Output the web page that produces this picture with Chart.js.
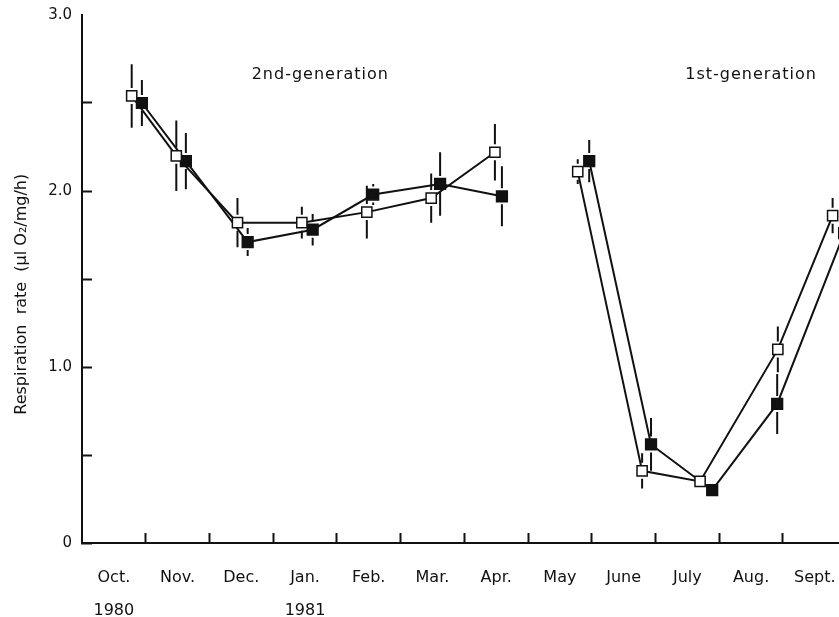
<!DOCTYPE html>
<html>
<head>
<meta charset="utf-8">
<script src="https://cdn.jsdelivr.net/npm/chart.js@4"></script>
<style>
  html, body { margin: 0; padding: 0; background: #fff; overflow: hidden; }
  canvas { display: block; }
</style>
</head>
<body>
<canvas id="respChart" width="839" height="617"></canvas>
<script>
const months = ["Oct.", "Nov.", "Dec.", "Jan.", "Feb.", "Mar.", "Apr.", "May", "June", "July", "Aug.", "Sept."];
const years = ["1980", "", "", "1981", "", "", "", "", "", "", "", ""];

// sampling time in months counted from 1 Oct 1980
const openX = [0.78, 1.48, 2.44, 3.45, 4.47, 5.48, 6.48, 7.78, 8.79, 9.70, 10.92, 11.78];
const openY = [2.54, 2.20, 1.82, 1.82, 1.88, 1.96, 2.22, 2.11, 0.41, 0.35, 1.10, 1.86];
const openErr = [0.18, 0.20, 0.14, 0.09, 0.15, 0.14, 0.16, 0.07, 0.10, 0, 0.13, 0.10];

const filledX = [0.94, 1.63, 2.60, 3.62, 4.57, 5.62, 6.59, 7.96, 8.93, 9.89, 10.91, 11.96];
const filledY = [2.50, 2.17, 1.71, 1.78, 1.98, 2.04, 1.97, 2.17, 0.56, 0.30, 0.79, 1.76];
const filledErr = [0.13, 0.16, 0.08, 0.09, 0.06, 0.18, 0.17, 0.12, 0.15, 0, 0.17, 0.10];

// index where the 1st generation starts
const genSplit = 7;
const genLabels = [
  { text: "2nd-generation", x: 3.74, y: 2.66 },
  { text: "1st-generation", x: 10.5, y: 2.66 },
];

const FONT = "'DejaVu Sans', sans-serif";
const INK = "#111";

function points(xs, ys, from, to) {
  const out = [];
  for (let i = from; i < to; i++) out.push({ x: xs[i], y: ys[i] });
  return out;
}

function makeSet(xs, ys, errs, from, to, filled) {
  return {
    data: points(xs, ys, from, to),
    errors: errs.slice(from, to),
    borderColor: INK,
    borderWidth: 2,
    pointStyle: "rect",
    pointRadius: filled ? 7.6 : 7.2,
    pointBorderWidth: 1.5,
    pointBorderColor: INK,
    pointBackgroundColor: filled ? INK : "#fff",
    tension: 0,
    fill: false,
  };
}

const errorBars = {
  id: "errorBars",
  afterDatasetsDraw(chart) {
    const ctx = chart.ctx;
    const y = chart.scales.y;
    const area = chart.chartArea;
    ctx.save();
    ctx.beginPath();
    ctx.rect(area.left, area.top, area.right - area.left, area.bottom - area.top);
    ctx.clip();
    ctx.strokeStyle = INK;
    ctx.lineWidth = 2;
    chart.data.datasets.forEach((ds, di) => {
      const meta = chart.getDatasetMeta(di);
      meta.data.forEach((pt, i) => {
        const err = ds.errors[i];
        if (!err) return;
        const v = ds.data[i].y;
        const top = y.getPixelForValue(v + err);
        const bot = y.getPixelForValue(v - err);
        const gap = 8;
        ctx.beginPath();
        if (top < pt.y - gap) {
          ctx.moveTo(pt.x, top);
          ctx.lineTo(pt.x, pt.y - gap);
        }
        if (bot > pt.y + gap) {
          ctx.moveTo(pt.x, pt.y + gap);
          ctx.lineTo(pt.x, bot);
        }
        ctx.stroke();
      });
    });
    ctx.restore();
  },
};

const genText = {
  id: "genText",
  afterDraw(chart) {
    const ctx = chart.ctx;
    ctx.save();
    ctx.fillStyle = INK;
    ctx.font = "16px " + FONT;
    ctx.letterSpacing = "1px";
    ctx.textAlign = "center";
    ctx.textBaseline = "middle";
    genLabels.forEach((g) => {
      ctx.fillText(g.text, chart.scales.x.getPixelForValue(g.x), chart.scales.y.getPixelForValue(g.y));
    });
    ctx.restore();
  },
};

function initChart() {
  const ctx = document.getElementById("respChart").getContext("2d");
  new Chart(ctx, {
    type: "line",
    data: {
      datasets: [
        makeSet(openX, openY, openErr, 0, genSplit, false),
        makeSet(filledX, filledY, filledErr, 0, genSplit, true),
        makeSet(openX, openY, openErr, genSplit, openX.length, false),
        makeSet(filledX, filledY, filledErr, genSplit, filledX.length, true),
      ],
    },
    options: {
      responsive: false,
      animation: false,
      layout: { autoPadding: false, padding: { top: 15, left: 0, right: 0, bottom: 0 } },
      plugins: {
        legend: { display: false },
        tooltip: { enabled: false },
      },
      scales: {
        x: {
          type: "linear",
          min: 0,
          max: 11.88,
          afterBuildTicks: (scale) => {
            const t = [];
            for (let i = 0; i < months.length; i++) {
              t.push({ value: i + 0.5 });
              if (i > 0) t.push({ value: i });
            }
            t.sort((a, b) => a.value - b.value);
            scale.ticks = t;
          },
          afterFit: (scale) => {
            scale.height = 74;
            scale.paddingLeft = 0;
            scale.paddingRight = 0;
          },
          border: { display: true, color: INK, width: 2 },
          grid: {
            drawOnChartArea: false,
            drawTicks: true,
            tickLength: -10,
            tickWidth: 2,
            tickColor: (c) => (c.tick && Number.isInteger(c.tick.value) ? INK : "rgba(0,0,0,0)"),
          },
          ticks: {
            autoSkip: false,
            maxRotation: 0,
            minRotation: 0,
            padding: 28,
            color: INK,
            font: { family: FONT, size: 16, lineHeight: 2.06 },
            callback: (value) => {
              if (Number.isInteger(value)) return "";
              const i = Math.floor(value);
              return years[i] ? [months[i], years[i]] : months[i];
            },
          },
        },
        y: {
          min: 0,
          max: 3,
          afterBuildTicks: (scale) => {
            scale.ticks = [0, 0.5, 1, 1.5, 2, 2.5, 3].map((v) => ({ value: v }));
          },
          afterFit: (scale) => {
            scale.width = 82;
            scale.paddingTop = 0;
            scale.paddingBottom = 0;
          },
          border: { display: true, color: INK, width: 2 },
          grid: {
            drawOnChartArea: false,
            drawTicks: true,
            tickLength: -10,
            tickWidth: 2,
            tickColor: (c) => (c.tick && c.tick.value < 3 ? INK : "rgba(0,0,0,0)"),
          },
          ticks: {
            padding: 20,
            color: INK,
            font: { family: FONT, size: 15 },
            callback: (value) => {
              if (value === 0) return "0";
              if (Number.isInteger(value)) return value.toFixed(1);
              return "";
            },
          },
          title: {
            display: true,
            text: "Respiration  rate  (\u00b5l O\u2082/mg/h)      ",
            color: INK,
            font: { family: FONT, size: 16 },
            padding: { top: 12, bottom: 0 },
          },
        },
      },
    },
    plugins: [errorBars, genText],
  });
}

window.onload = initChart;
</script>
</body>
</html>
